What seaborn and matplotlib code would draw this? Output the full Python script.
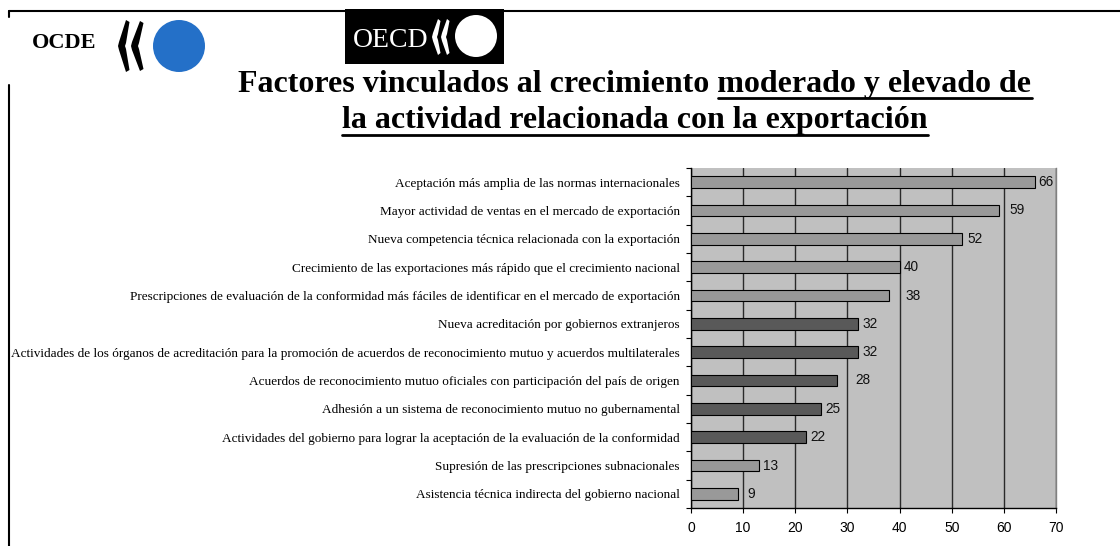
import numpy as np
import pandas as pd
import matplotlib
matplotlib.use("Agg")
import matplotlib.pyplot as plt
import matplotlib.transforms as mtransforms
from matplotlib.lines import Line2D
from matplotlib.patches import Circle, Polygon, Rectangle
import seaborn as sns

# ---------------- data ----------------
categorias = [
    "Aceptación más amplia de las normas internacionales",
    "Mayor actividad de ventas en el mercado de exportación",
    "Nueva competencia técnica relacionada con la exportación",
    "Crecimiento de las exportaciones más rápido que el crecimiento nacional",
    "Prescripciones de evaluación de la conformidad más fáciles de identificar en el mercado de exportación",
    "Nueva acreditación por gobiernos extranjeros",
    "Actividades de los órganos de acreditación para la promoción de acuerdos de reconocimiento mutuo y acuerdos multilaterales",
    "Acuerdos de reconocimiento mutuo oficiales con participación del país de origen",
    "Adhesión a un sistema de reconocimiento mutuo no gubernamental",
    "Actividades del gobierno para lograr la aceptación de la evaluación de la conformidad",
    "Supresión de las prescripciones subnacionales",
    "Asistencia técnica indirecta del gobierno nacional",
]
valores = [66, 59, 52, 40, 38, 32, 32, 28, 25, 22, 13, 9]
grupo = ["claro"] * 5 + ["oscuro"] * 5 + ["claro"] * 2
ticks_x = [0, 10, 20, 30, 40, 50, 60, 70]

titulo_1a = "Factores vinculados al crecimiento "
titulo_1b = "moderado y elevado de"
titulo_2 = "la actividad relacionada con la exportación"
logo_izq = "OCDE"
logo_der = "OECD"

# ---------------- style ----------------
etiqueta_pad = [2, 8, 3.5, 3, 11.5, 3, 3, 13, 3, 3, 3, 6.5]  # label offsets (pt)
colores = {"claro": "#999999", "oscuro": "#595959"}

sns.set_style("white")
plt.rcParams["font.family"] = ["Liberation Serif", "DejaVu Serif"]
plt.rcParams["text.color"] = "black"
plt.rcParams["xtick.color"] = "black"
plt.rcParams["ytick.color"] = "black"
plt.rcParams["xtick.labelcolor"] = "black"
plt.rcParams["ytick.labelcolor"] = "black"

W, H, DPI = 1120, 546, 100
fig = plt.figure(figsize=(W / DPI, H / DPI), dpi=DPI)
# pixel transform (y down from top-left)
px = mtransforms.Affine2D().scale(1 / DPI, -1 / DPI).translate(0, H / DPI) + fig.dpi_scale_trans

ax = fig.add_axes([691 / W, 1 - 508 / H, (1056 - 691) / W, (508 - 168) / H])
df = pd.DataFrame({"categoria": categorias, "valor": valores, "grupo": grupo})
sns.barplot(data=df, x="valor", y="categoria", hue="grupo", palette=colores,
            order=categorias, dodge=False, width=0.42, edgecolor="black",
            linewidth=0.8, legend=False, ax=ax, zorder=3)

ax.set_facecolor("#c0c0c0")
ax.set_xlim(0, 70)
ax.set_xticks(ticks_x)
ax.set_xticklabels([str(t) for t in ticks_x], fontfamily="Liberation Sans", fontsize=10,
                   color="black")
ax.set_xlabel("")
ax.set_ylabel("")
ax.xaxis.grid(True, color="#2a2a2a", linewidth=1.0, zorder=0)
ax.yaxis.grid(False)
ax.set_axisbelow(True)
ax.spines["top"].set_visible(False)
ax.spines["right"].set_color("#808080")
ax.spines["right"].set_linewidth(1.0)
ax.spines["left"].set_color("black")
ax.spines["bottom"].set_color("black")
ax.spines["left"].set_linewidth(1.0)
ax.spines["bottom"].set_linewidth(1.0)

ax.tick_params(axis="x", direction="out", length=3.5, width=0.8, color="black", pad=6, bottom=True)
ax.tick_params(axis="y", which="major", length=0, pad=8, labelsize=9.5)
ax.set_yticks(np.arange(-0.5, len(categorias)), minor=True)
ax.tick_params(axis="y", which="minor", direction="out", length=3.5, width=0.8, color="black", left=True)
for lab in ax.get_yticklabels():
    lab.set_fontfamily("Liberation Serif")
    lab.set_color("black")

for i, (v, p) in enumerate(zip(valores, etiqueta_pad)):
    ax.annotate(str(v), xy=(v, i), xytext=(p, 0), textcoords="offset points",
                va="center", ha="left", fontfamily="Liberation Sans", fontsize=9.8,
                color="#111111", zorder=5)

# ---------------- frame lines ----------------
for seg in [((9, 11), (1120, 11)), ((9, 11), (9, 17)), ((9, 85), (9, 546))]:
    (x0, y0), (x1, y1) = seg
    fig.add_artist(Line2D([x0, x1], [y0, y1], transform=px, color="black", linewidth=1.5))

# ---------------- logos ----------------
fig.text(32, 48, logo_izq, transform=px, fontsize=16, fontweight="bold", color="black",
         ha="left", va="baseline")


def chevron(x0, w, top, bot, th, color):
    mid = (top + bot) / 2
    pts = [(x0 + w, top), (x0 + 1, mid - 4), (x0, mid), (x0 + 1, mid + 4), (x0 + w, bot),
           (x0 + w + th * 0.5, bot - 2), (x0 + th + 1, mid + 3), (x0 + th, mid),
           (x0 + th + 1, mid - 3), (x0 + w + th * 0.5, top + 2)]
    fig.add_artist(Polygon(pts, closed=True, transform=px, facecolor=color, edgecolor="none"))


chevron(118, 8, 20, 72, 7, "black")
chevron(131, 9, 21, 71, 7, "black")
fig.add_artist(Circle((179, 46), 26, transform=px, facecolor="#2470c8", edgecolor="none"))

fig.add_artist(Rectangle((345, 9), 159, 55, transform=px, facecolor="black", edgecolor="none"))
fig.text(353, 47, logo_der, transform=px, fontsize=20, color="white", ha="left", va="baseline")
chevron(432, 6, 19, 55, 5, "white")
chevron(441, 6, 19, 55, 5, "white")
fig.add_artist(Circle((476, 36), 21, transform=px, facecolor="white", edgecolor="none"))

# ---------------- title with underline ----------------
t1 = fig.text(635, 92, titulo_1a + titulo_1b, transform=px, fontsize=23, fontweight="bold",
              ha="center", va="baseline", color="black")
t2 = fig.text(635, 128, titulo_2, transform=px, fontsize=23, fontweight="bold",
              ha="center", va="baseline", color="black")
fig.canvas.draw()
r = fig.canvas.get_renderer()
tmp = fig.text(0, 0, titulo_1b, fontsize=23, fontweight="bold")
w_b = tmp.get_window_extent(r).width
tmp.remove()
bb1 = t1.get_window_extent(r)
bb2 = t2.get_window_extent(r)
fig.add_artist(Line2D([bb1.x1 - w_b, bb1.x1], [98, 98], transform=px, color="black", linewidth=2))
fig.add_artist(Line2D([bb2.x0, bb2.x1], [135, 135], transform=px, color="black", linewidth=2))

fig.savefig("out.png", dpi=DPI)
